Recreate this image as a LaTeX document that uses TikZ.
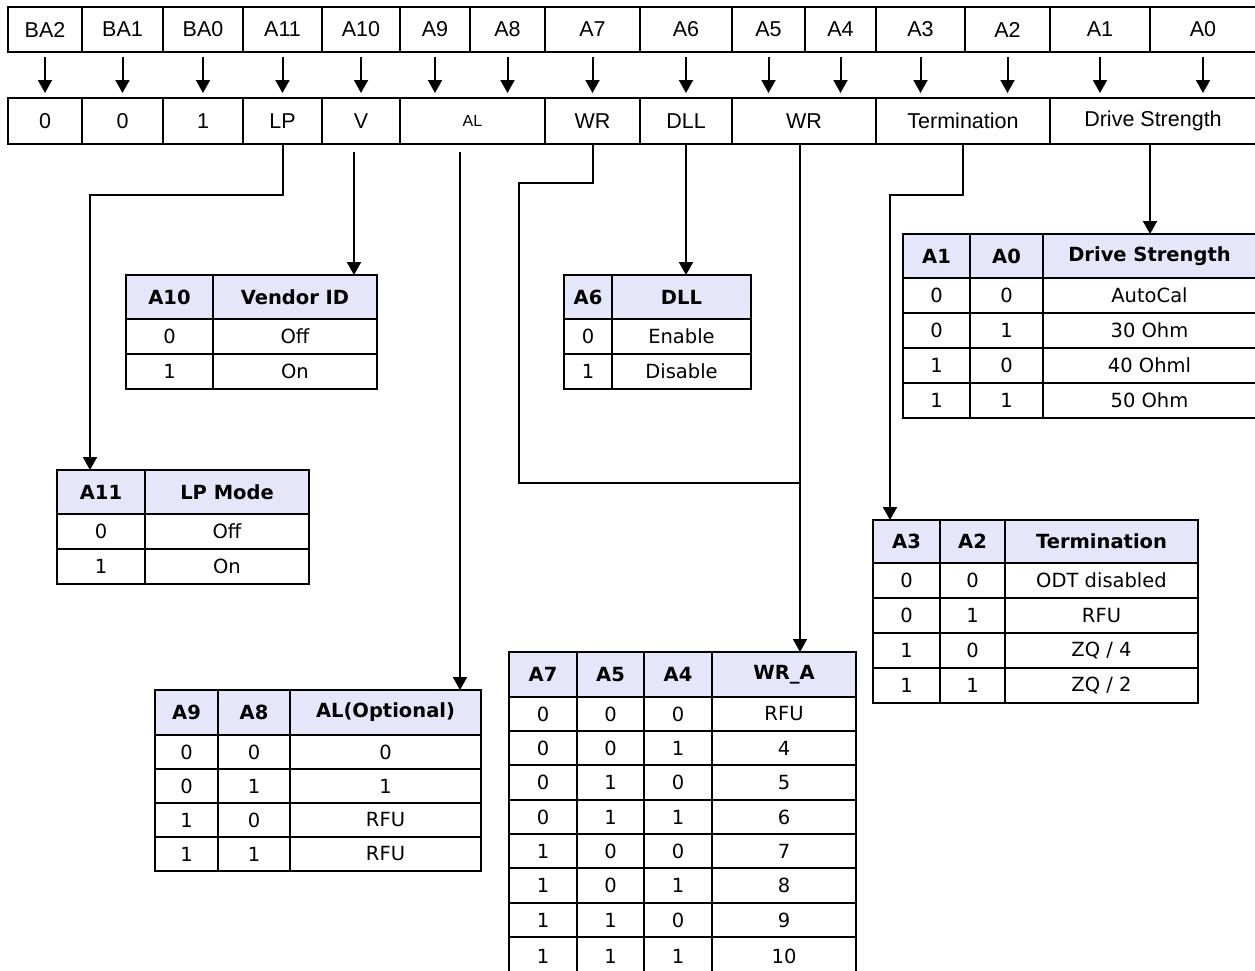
\documentclass[tikz,border=0pt]{standalone}
\usepackage{fontspec}
\setmainfont{DejaVu Sans}
\newfontfamily\regfont{Liberation Sans}
\usetikzlibrary{arrows.meta}
\definecolor{headfill}{HTML}{E6E6FA}
\newcommand\mkcell[7]{\node[#1,minimum width={#5-#3},minimum height={#6-#4}] (#2) at (#3,#4) {#7};}
\tikzset{
  base/.style={draw, rectangle, anchor=north west, inner sep=0pt, outer sep=0pt, line width=2pt},
  regcell/.style={base, font=\regfont\fontsize{21.5}{25}\selectfont},
  smallcell/.style={base, font=\regfont\fontsize{16}{19}\selectfont},
  hcell/.style={base, fill=headfill, font=\bfseries\fontsize{19.5}{23}\selectfont},
  bcell/.style={base, font=\fontsize{19.5}{23}\selectfont},
  conn/.style={draw, line width=2pt},
  arr/.style={conn, -{Triangle[width=14pt,length=13pt]}},
}
\begin{document}
\begin{tikzpicture}[x=1pt,y=-1pt]
\useasboundingbox (0,0) rectangle (1255,970);
% top row
\mkcell{regcell}{tBA2}{8}{7}{82}{52}{BA2}
\mkcell{regcell}{tBA1}{82}{7}{163}{52}{BA1}
\mkcell{regcell}{tBA0}{163}{7}{243}{52}{BA0}
\mkcell{regcell}{tA11}{243}{7}{322}{52}{A11}
\mkcell{regcell}{tA10}{322}{7}{400}{52}{A10}
\mkcell{regcell}{tA9}{400}{7}{470}{52}{A9}
\mkcell{regcell}{tA8}{470}{7}{545}{52}{A8}
\mkcell{regcell}{tA7}{545}{7}{640}{52}{A7}
\mkcell{regcell}{tA6}{640}{7}{732}{52}{A6}
\mkcell{regcell}{tA5}{732}{7}{805}{52}{A5}
\mkcell{regcell}{tA4}{805}{7}{876}{52}{A4}
\mkcell{regcell}{tA3}{876}{7}{965}{52}{A3}
\mkcell{regcell}{tA2}{965}{7}{1050}{52}{A2}
\mkcell{regcell}{tA1}{1050}{7}{1150}{52}{A1}
\mkcell{regcell}{tA0}{1150}{7}{1256}{52}{A0}
% second row
\mkcell{regcell}{s0a}{8}{98}{82}{144}{0}
\mkcell{regcell}{s0b}{82}{98}{163}{144}{0}
\mkcell{regcell}{s1}{163}{98}{243}{144}{1}
\mkcell{regcell}{sLP}{243}{98}{322}{144}{LP}
\mkcell{regcell}{sV}{322}{98}{400}{144}{V}
\mkcell{smallcell}{sAL}{400}{98}{545}{144}{AL}
\mkcell{regcell}{sWR1}{545}{98}{640}{144}{WR}
\mkcell{regcell}{sDLL}{640}{98}{732}{144}{DLL}
\mkcell{regcell}{sWR2}{732}{98}{876}{144}{WR}
\mkcell{regcell}{sTerm}{876}{98}{1050}{144}{Termination}
\mkcell{regcell}{sDS}{1050}{98}{1256}{144}{Drive Strength}
% arrows between rows
\foreach \n/\m in {tBA2/s0a, tBA1/s0b, tBA0/s1, tA11/sLP, tA10/sV, tA9/sAL, tA8/sAL, tA7/sWR1, tA6/sDLL, tA5/sWR2, tA4/sWR2, tA3/sTerm, tA2/sTerm, tA1/sDS, tA0/sDS}
  \draw[arr, shorten <=5pt, shorten >=5pt] (\n.south) -- (\n.south |- \m.north);
% Vendor ID table
\mkcell{hcell}{vH1}{126}{275}{213}{319}{A10}
\mkcell{hcell}{vH2}{213}{275}{377}{319}{Vendor ID}
\mkcell{bcell}{v11}{126}{319}{213}{354}{0}
\mkcell{bcell}{v12}{213}{319}{377}{354}{Off}
\mkcell{bcell}{v21}{126}{354}{213}{389}{1}
\mkcell{bcell}{v22}{213}{354}{377}{389}{On}
% LP Mode table
\mkcell{hcell}{lH1}{57}{470}{145}{514}{A11}
\mkcell{hcell}{lH2}{145}{470}{309}{514}{LP Mode}
\mkcell{bcell}{l11}{57}{514}{145}{549}{0}
\mkcell{bcell}{l12}{145}{514}{309}{549}{Off}
\mkcell{bcell}{l21}{57}{549}{145}{584}{1}
\mkcell{bcell}{l22}{145}{549}{309}{584}{On}
% DLL table
\mkcell{hcell}{dH1}{564}{275}{612}{319}{A6}
\mkcell{hcell}{dH2}{612}{275}{751}{319}{DLL}
\mkcell{bcell}{d11}{564}{319}{612}{354}{0}
\mkcell{bcell}{d12}{612}{319}{751}{354}{Enable}
\mkcell{bcell}{d21}{564}{354}{612}{389}{1}
\mkcell{bcell}{d22}{612}{354}{751}{389}{Disable}
% Drive Strength table
\mkcell{hcell}{gH1}{903}{234}{970}{278}{A1}
\mkcell{hcell}{gH2}{970}{234}{1043}{278}{A0}
\mkcell{hcell}{gH3}{1043}{234}{1256}{278}{Drive Strength}
\mkcell{bcell}{g11}{903}{278}{970}{313}{0}
\mkcell{bcell}{g12}{970}{278}{1043}{313}{0}
\mkcell{bcell}{g13}{1043}{278}{1256}{313}{AutoCal}
\mkcell{bcell}{g21}{903}{313}{970}{348}{0}
\mkcell{bcell}{g22}{970}{313}{1043}{348}{1}
\mkcell{bcell}{g23}{1043}{313}{1256}{348}{30 Ohm}
\mkcell{bcell}{g31}{903}{348}{970}{383}{1}
\mkcell{bcell}{g32}{970}{348}{1043}{383}{0}
\mkcell{bcell}{g33}{1043}{348}{1256}{383}{40 Ohml}
\mkcell{bcell}{g41}{903}{383}{970}{418}{1}
\mkcell{bcell}{g42}{970}{383}{1043}{418}{1}
\mkcell{bcell}{g43}{1043}{383}{1256}{418}{50 Ohm}
% Termination table
\mkcell{hcell}{eH1}{873}{520}{940}{563}{A3}
\mkcell{hcell}{eH2}{940}{520}{1005}{563}{A2}
\mkcell{hcell}{eH3}{1005}{520}{1198}{563}{Termination}
\mkcell{bcell}{e11}{873}{563}{940}{598}{0}
\mkcell{bcell}{e12}{940}{563}{1005}{598}{0}
\mkcell{bcell}{e13}{1005}{563}{1198}{598}{ODT disabled}
\mkcell{bcell}{e21}{873}{598}{940}{633}{0}
\mkcell{bcell}{e22}{940}{598}{1005}{633}{1}
\mkcell{bcell}{e23}{1005}{598}{1198}{633}{RFU}
\mkcell{bcell}{e31}{873}{633}{940}{668}{1}
\mkcell{bcell}{e32}{940}{633}{1005}{668}{0}
\mkcell{bcell}{e33}{1005}{633}{1198}{668}{ZQ / 4}
\mkcell{bcell}{e41}{873}{668}{940}{703}{1}
\mkcell{bcell}{e42}{940}{668}{1005}{703}{1}
\mkcell{bcell}{e43}{1005}{668}{1198}{703}{ZQ / 2}
% AL table
\mkcell{hcell}{aH1}{155}{690}{218}{735}{A9}
\mkcell{hcell}{aH2}{218}{690}{290}{735}{A8}
\mkcell{hcell}{aH3}{290}{690}{481}{735}{AL(Optional)}
\mkcell{bcell}{a11}{155}{735}{218}{769}{0}
\mkcell{bcell}{a12}{218}{735}{290}{769}{0}
\mkcell{bcell}{a13}{290}{735}{481}{769}{0}
\mkcell{bcell}{a21}{155}{769}{218}{803}{0}
\mkcell{bcell}{a22}{218}{769}{290}{803}{1}
\mkcell{bcell}{a23}{290}{769}{481}{803}{1}
\mkcell{bcell}{a31}{155}{803}{218}{837}{1}
\mkcell{bcell}{a32}{218}{803}{290}{837}{0}
\mkcell{bcell}{a33}{290}{803}{481}{837}{RFU}
\mkcell{bcell}{a41}{155}{837}{218}{871}{1}
\mkcell{bcell}{a42}{218}{837}{290}{871}{1}
\mkcell{bcell}{a43}{290}{837}{481}{871}{RFU}
% WR_A table
\mkcell{hcell}{wH1}{509}{652}{577}{697}{A7}
\mkcell{hcell}{wH2}{577}{652}{644}{697}{A5}
\mkcell{hcell}{wH3}{644}{652}{712}{697}{A4}
\mkcell{hcell}{wH4}{712}{652}{856}{697}{WR\_A}
\foreach \r/\ya/\yb/\p/\q/\s/\v in {1/697/731/0/0/0/RFU, 2/731/765/0/0/1/4, 3/765/800/0/1/0/5, 4/800/834/0/1/1/6, 5/834/868/1/0/0/7, 6/868/903/1/0/1/8, 7/903/937/1/1/0/9, 8/937/975/1/1/1/10}{
  \mkcell{bcell}{w\r1}{509}{\ya}{577}{\yb}{\p}
  \mkcell{bcell}{w\r2}{577}{\ya}{644}{\yb}{\q}
  \mkcell{bcell}{w\r3}{644}{\ya}{712}{\yb}{\s}
  \mkcell{bcell}{w\r4}{712}{\ya}{856}{\yb}{\v}
}
% connectors
\coordinate (lpturn) at (90,195);
\draw[arr] (sLP.south) |- (lpturn) -- (lpturn |- lH1.north);
\coordinate (vtop) at (354,152);
\draw[arr] (vtop) -- (vtop |- vH2.north);
\coordinate (altop) at (460,152);
\draw[arr] (altop) -- (altop |- aH3.north);
\coordinate (wrturn) at (519,183);
\coordinate (wrjoin) at (800,483);
\draw[conn] (sWR1.south) |- (wrturn) -- (wrturn |- wrjoin) -- (wrjoin);
\draw[arr] (sWR2.south -| wrjoin) -- (wrjoin |- wH4.north);
\draw[arr] (sDLL.south) -- (sDLL.south |- dH2.north);
\coordinate (termturn) at (890,195);
\draw[arr] (sTerm.south) |- (termturn) -- (termturn |- eH1.north);
\coordinate (dstop) at (1150,144);
\draw[arr] (dstop) -- (dstop |- gH3.north);
\end{tikzpicture}
\end{document}
